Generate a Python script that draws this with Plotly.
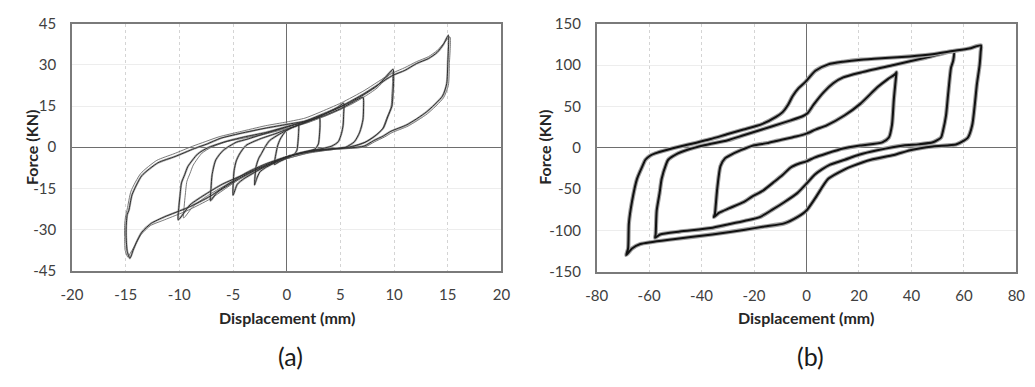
import plotly.graph_objects as go

# ---------------- Panel (a) data : displacement (mm) / force (kN) ----------------
a_loop1_x = [-1.15, -1.1, -1.0, -0.85, -0.6, -0.1, 0.4, 0.8, 1.1, 1.1, 1.05, 0.95, 0.7, 0.3, -0.2, -0.7, -1.15]
a_loop1_y = [-6.3, -4.5, -2.3, 0.5, 3.0, 5.8, 7.0, 7.6, 8.2, 5.0, 2.0, -1.1, -2.6, -3.5, -4.3, -5.3, -6.3]

a_loop3_x = [-3.0, -2.95, -2.85, -2.6, -2.35, -2.0, -1.6, -0.7, 0.3, 1.2, 2.0, 2.6, 3.05, 3.1, 3.05, 2.95, 2.65, 2.2, 1.4, 0.5, -0.5, -1.3, -2.0, -2.5, -2.8, -3.0]
a_loop3_y = [-13.8, -10.5, -7.0, -4.0, -2.3, 0.2, 2.4, 4.7, 6.8, 8.3, 9.5, 10.3, 10.8, 8.0, 4.5, 1.2, -0.6, -1.3, -2.0, -3.0, -4.5, -6.0, -7.5, -9.0, -11.5, -13.8]

a_loop5_x = [-5.0, -4.98, -4.9, -4.7, -4.4, -3.8, -2.5, -1.0, 0.5, 2.0, 3.0, 4.0, 4.8, 5.3, 5.3, 5.25, 5.1, 4.8, 4.2, 3.3, 2.2, 1.0, 0.0, -1.0, -2.0, -3.0, -4.0, -4.6, -5.0]
a_loop5_y = [-17.5, -13.0, -8.5, -5.0, -2.5, 0.6, 3.0, 5.0, 7.2, 9.3, 11.0, 13.0, 14.7, 16.0, 12.0, 8.0, 5.0, 2.0, 0.4, -0.5, -1.2, -2.3, -3.5, -5.2, -7.0, -9.2, -11.5, -13.5, -17.5]

a_loop7_x = [-7.1, -7.05, -6.95, -6.6, -5.9, -4.7, -3.7, -2.0, 0.0, 2.0, 3.5, 5.0, 6.2, 7.1, 7.15, 7.1, 6.8, 6.3, 5.5, 4.5, 3.0, 1.5, 0.0, -1.5, -3.0, -4.5, -5.5, -6.5, -7.1]
a_loop7_y = [-19.5, -15.0, -10.0, -4.6, -1.1, 1.8, 2.9, 5.0, 7.3, 9.6, 11.5, 14.0, 16.5, 18.2, 14.0, 10.0, 5.5, 2.0, 0.0, -0.5, -1.0, -2.0, -3.5, -6.0, -8.5, -11.5, -14.0, -16.5, -19.5]

a_loop10_x = [-10.1, -10.05, -9.95, -9.8, -9.5, -9.2, -8.3, -7.4, -5.9, -4.0, -2.0, 0.0, 2.0, 4.0, 6.0, 7.2, 8.4, 9.2, 9.9, 9.95, 9.9, 9.8, 9.4, 9.0, 8.2, 7.3, 6.0, 4.0, 2.0, 0.0, -2.0, -4.0, -6.0, -7.5, -9.0, -10.1]
a_loop10_y = [-26.5, -22.0, -18.0, -13.0, -10.0, -7.0, -2.5, -0.3, 1.8, 3.7, 5.3, 7.5, 9.8, 12.8, 16.5, 19.2, 22.3, 25.5, 28.4, 24.0, 20.0, 15.0, 11.0, 7.0, 4.0, 1.8, 0.2, -0.8, -1.8, -3.5, -6.5, -10.0, -13.5, -17.0, -21.0, -26.5]

a_loop10b_x = [-9.6, -9.55, -9.45, -9.3, -9.0, -8.7, -7.9, -7.0, -5.6, -4.0, -2.0, 0.0, 2.0, 4.0, 6.0, 7.2, 8.4, 9.2, 9.8, 9.85, 9.8, 9.7, 9.3, 8.9, 8.1, 7.2, 6.0, 4.0, 2.0, 0.0, -2.0, -4.0, -6.0, -7.5, -8.7, -9.6]
a_loop10b_y = [-25.8, -21.5, -17.5, -12.5, -9.5, -6.5, -2.2, 0.0, 2.0, 3.3, 4.8, 6.8, 9.0, 12.0, 15.6, 18.3, 21.5, 24.8, 27.6, 23.5, 19.5, 14.5, 10.5, 6.6, 3.8, 1.6, 0.0, -1.0, -2.2, -4.2, -7.2, -10.8, -14.5, -18.0, -21.5, -25.8]

a_loop15_x = [-14.6, -14.85, -14.95, -14.95, -14.85, -14.7, -14.4, -13.5, -12.0, -10.4, -8.6, -7.4, -6.2, -4.35, -1.9, 0.0, 1.7, 3.0, 5.1, 7.2, 8.4, 9.2, 9.95, 11.0, 12.1, 13.2, 14.0, 14.6, 15.05,
              15.0, 14.9, 14.5, 13.0, 11.2, 9.7, 9.0, 8.1, 7.2, 6.0, 4.5, 2.5, 0.0, -1.9, -3.7, -5.3, -7.1, -9.2, -11.4, -12.6, -13.5, -14.0, -14.3, -14.6]
a_loop15_y = [-40.5, -38.0, -33.0, -29.0, -24.5, -23.0, -17.3, -10.4, -5.7, -3.4, -0.5, 1.2, 3.2, 5.0, 7.0, 8.3, 9.5, 11.5, 15.0, 19.5, 22.5, 24.6, 26.3, 28.0, 30.5, 32.3, 34.5, 37.5, 40.8,
              31.0, 23.2, 18.6, 12.8, 8.2, 5.8, 4.1, 2.4, 0.4, -0.2, -0.5, -1.2, -3.5, -6.0, -9.2, -13.0, -17.8, -22.0, -25.4, -27.7, -31.0, -34.7, -37.5, -40.5]

a_loop15b_x = [-14.8, -15.05, -15.1, -15.1, -15.0, -14.85, -14.5, -13.6, -12.1, -10.5, -8.8, -7.6, -6.3, -4.4, -2.0, 0.0, 1.7, 3.0, 5.1, 7.2, 8.4, 9.2, 9.95, 11.0, 12.1, 13.2, 14.0, 14.7, 15.2,
               15.15, 15.05, 14.6, 13.1, 11.3, 9.8, 9.1, 8.2, 7.3, 6.1, 4.5, 2.5, 0.0, -1.9, -3.7, -5.3, -7.1, -9.2, -11.4, -12.7, -13.6, -14.1, -14.5, -14.8]
a_loop15b_y = [-40.0, -37.5, -32.5, -28.5, -25.0, -22.5, -16.0, -9.6, -4.8, -2.4, 0.3, 2.0, 3.8, 5.6, 7.8, 9.2, 10.6, 12.6, 16.2, 20.6, 23.6, 25.6, 27.2, 29.0, 31.2, 33.0, 35.2, 38.2, 40.2,
               30.5, 22.5, 18.0, 12.2, 7.7, 5.3, 3.7, 2.0, 0.1, -0.4, -0.8, -1.6, -4.2, -6.8, -10.0, -14.0, -18.8, -23.0, -26.5, -28.6, -32.0, -35.5, -38.2, -40.0]

# ---------------- Panel (b) data ----------------
b_loop35_x = [-35.3, -34.9, -34.6, -34.0, -32.8, -31.0, -29.0, -25.0, -20.3, -15.0, -11.0, -4.0, 0.0, 3.4, 7.7, 14.6, 20.5, 27.0, 31.0, 34.0, 34.3,
              34.2, 33.8, 33.3, 32.6, 31.4, 28.9, 20.8, 14.0, 7.7, 3.0, 0.0, -3.0, -6.0, -9.1, -12.2, -16.6, -20.9, -24.0, -29.6, -33.4, -35.3]
b_loop35_y = [-84.0, -80.0, -70.0, -49.0, -22.3, -12.7, -8.9, -3.0, 2.7, 5.5, 8.5, 13.5, 17.0, 21.9, 27.0, 39.2, 53.0, 73.0, 83.0, 89.5, 91.2,
              88.0, 75.0, 58.5, 27.7, 12.3, 6.5, 2.7, -1.0, -7.0, -12.0, -16.5, -19.5, -24.0, -33.0, -41.0, -52.0, -59.5, -66.0, -73.5, -79.0, -84.0]

b_loop57_x = [-57.7, -57.5, -57.1, -56.0, -55.2, -53.5, -52.7, -49.0, -45.9, -39.0, -30.0, -24.0, -13.0, -6.0, -1.5, 0.5, 2.7, 6.5, 10.2, 14.0, 20.8, 33.3, 45.7, 56.1,
              55.9, 55.1, 54.0, 53.2, 52.0, 51.3, 48.2, 42.6, 37.0, 27.0, 20.0, 14.6, 9.0, 5.9, 3.0, 0.3, -3.5, -8.5, -13.0, -17.8, -23.4, -30.0, -36.5, -48.3, -55.8, -57.7]
b_loop57_y = [-109.0, -105.0, -76.2, -55.0, -37.7, -20.0, -14.6, -6.9, -3.1, 3.0, 9.0, 15.0, 26.0, 33.0, 38.0, 42.0, 52.0, 67.0, 78.0, 85.0, 91.0, 100.0, 109.0, 116.0,
              105.0, 96.9, 65.0, 39.2, 20.0, 12.3, 6.5, 4.0, 2.7, -3.1, -8.5, -14.6, -20.5, -26.2, -33.0, -42.5, -55.0, -66.0, -75.0, -84.0, -88.5, -93.0, -97.3, -101.5, -105.0, -109.0]

b_loop67_x = [-68.7, -68.0, -67.7, -66.5, -64.6, -62.5, -61.4, -59.5, -57.7, -53.0, -49.0, -42.0, -36.5, -30.0, -24.0, -17.0, -11.6, -9.1, -7.0, -5.3, -3.0, -0.4, 3.4, 8.3, 14.0, 20.8, 30.0, 39.5, 48.0, 55.7, 62.0, 66.5,
              66.4, 66.0, 65.0, 63.2, 61.5, 60.0, 57.0, 48.2, 39.5, 33.3, 24.6, 17.7, 14.6, 8.3, 3.4, 0.0, -3.5, -8.5, -16.0, -23.4, -35.9, -50.8, -63.3, -66.5, -68.7]
b_loop67_y = [-130.0, -122.0, -91.5, -65.0, -37.7, -22.0, -14.6, -9.5, -6.9, -2.5, 0.8, 6.0, 10.4, 16.5, 21.9, 28.5, 37.3, 43.0, 52.0, 62.3, 72.0, 79.6, 93.1, 100.8, 104.0, 106.5, 108.5, 110.4, 113.0, 116.9, 120.0, 123.8,
              116.0, 100.0, 77.7, 27.7, 12.0, 8.5, 3.8, 1.5, -3.1, -8.9, -14.6, -22.0, -26.2, -37.7, -60.8, -76.0, -84.0, -91.6, -95.4, -99.2, -105.0, -110.8, -116.6, -122.0, -130.0]

a_xticks = [-20, -15, -10, -5, 0, 5, 10, 15, 20]
a_yticks = [-45, -30, -15, 0, 15, 30, 45]
b_xticks = [-80, -60, -40, -20, 0, 20, 40, 60, 80]
b_yticks = [-150, -100, -50, 0, 50, 100, 150]

x_title = "Displacement (mm)"
y_title = "Force (KN)"
panel_labels = ["(a)", "(b)"]

FONT = "Lato, 'Open Sans', sans-serif"

fig = go.Figure()

a_loops = [(a_loop1_x, a_loop1_y), (a_loop3_x, a_loop3_y), (a_loop5_x, a_loop5_y),
           (a_loop7_x, a_loop7_y), (a_loop10_x, a_loop10_y), (a_loop15_x, a_loop15_y)]
a_repeats = [(a_loop10b_x, a_loop10b_y), (a_loop15b_x, a_loop15b_y)]
for lx, ly in a_loops:
    fig.add_trace(go.Scatter(x=lx, y=ly, mode="lines", xaxis="x", yaxis="y",
                             line=dict(color="#b0b0b0", width=2.2, shape="spline", smoothing=0.6),
                             hoverinfo="skip", showlegend=False))
for lx, ly in a_repeats:
    fig.add_trace(go.Scatter(x=lx, y=ly, mode="lines", xaxis="x", yaxis="y",
                             line=dict(color="#6a6a6a", width=0.9, shape="spline", smoothing=0.6),
                             showlegend=False))
for lx, ly in a_loops:
    fig.add_trace(go.Scatter(x=lx, y=ly, mode="lines", xaxis="x", yaxis="y",
                             line=dict(color="#2e2e2e", width=1.0, shape="spline", smoothing=0.6),
                             showlegend=False))

b_loops = [(b_loop35_x, b_loop35_y), (b_loop57_x, b_loop57_y), (b_loop67_x, b_loop67_y)]
for lx, ly in b_loops:
    fig.add_trace(go.Scatter(x=lx, y=ly, mode="lines", xaxis="x2", yaxis="y2",
                             line=dict(color="#a0a0a0", width=4.2, shape="spline", smoothing=0.6),
                             hoverinfo="skip", showlegend=False))
    fig.add_trace(go.Scatter(x=lx, y=ly, mode="lines", xaxis="x2", yaxis="y2",
                             line=dict(color="#111111", width=2.0, shape="spline", smoothing=0.6),
                             showlegend=False))

W, H = 1035, 387
OX, OY = 8, 8  # page body margin compensation


def px(x):
    return (x - OX) / W


def py(y):
    return 1 - (y - OY) / H


def ax_common():
    return dict(showline=True, mirror=True, linecolor="#7a7a7a", linewidth=1.5,
                zeroline=True, zerolinecolor="#6e6e6e", zerolinewidth=1.3,
                ticks="outside", ticklen=10, tickcolor="rgba(0,0,0,0)",
                tickfont=dict(family=FONT, size=15, color="#404040"),
                ticklabeloverflow="allow", showgrid=True)


def labels(vals):
    return [str(v) for v in vals]


xa = ax_common(); xa.update(domain=[px(62), px(500)], range=[-20, 20], tickvals=a_xticks, ticktext=labels(a_xticks),
                            gridcolor="#d4d4d4", griddash="dot", gridwidth=1, anchor="y")
ya = ax_common(); ya.update(domain=[py(273), py(14)], range=[-45, 45], tickvals=a_yticks, ticktext=labels(a_yticks),
                            gridcolor="#ededed", gridwidth=1, anchor="x", ticklen=11)
xb = ax_common(); xb.update(domain=[px(597), px(1025)], range=[-80, 80], tickvals=b_xticks, ticktext=labels(b_xticks),
                            gridcolor="#d4d4d4", griddash="dot", gridwidth=1, anchor="y2")
yb = ax_common(); yb.update(domain=[py(274), py(14)], range=[-150, 150], tickvals=b_yticks, ticktext=labels(b_yticks),
                            gridcolor="#ededed", gridwidth=1, anchor="x2", ticklen=11)

ann = []
for cx, fx in [(281, 20), (811, 544)]:
    ann.append(dict(text="<b>" + x_title + "</b>", x=px(cx), y=py(322), xref="paper", yref="paper",
                    showarrow=False, font=dict(family=FONT, size=16, color="#262626"),
                    xanchor="center", yanchor="middle"))
    ann.append(dict(text="<b>" + y_title + "</b>", x=px(fx), y=py(143.5), xref="paper", yref="paper",
                    showarrow=False, textangle=-90, font=dict(family=FONT, size=16, color="#262626"),
                    xanchor="center", yanchor="middle"))
for lbl, cx in zip(panel_labels, [285, 815]):
    ann.append(dict(text=lbl, x=px(cx), y=py(363), xref="paper", yref="paper", showarrow=False,
                    font=dict(family=FONT, size=25, color="#1a1a1a"), xanchor="center", yanchor="middle"))

fig.update_layout(width=W, height=H, margin=dict(l=0, r=0, t=0, b=0),
                  paper_bgcolor="white", plot_bgcolor="white",
                  xaxis=xa, yaxis=ya, xaxis2=xb, yaxis2=yb, annotations=ann,
                  showlegend=False)

fig.write_html("out.html")
